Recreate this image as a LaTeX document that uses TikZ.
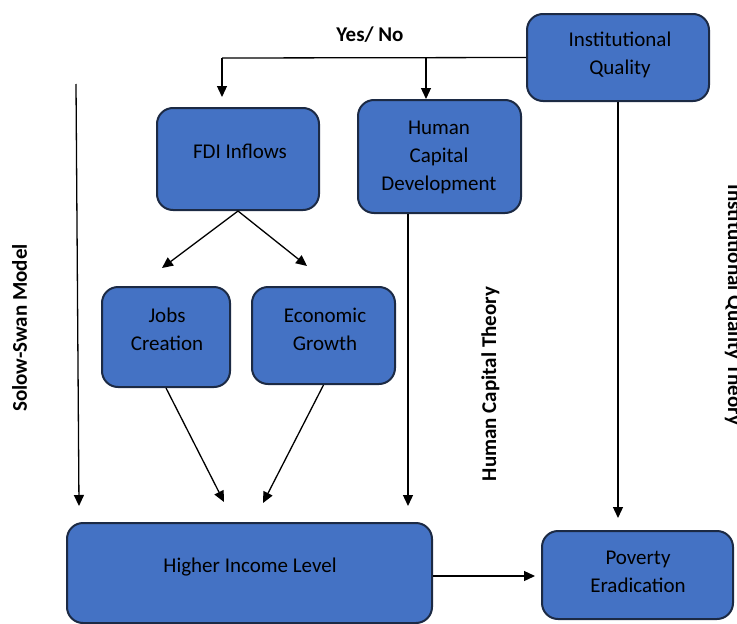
\documentclass[tikz,border=0pt]{standalone}
\usepackage{fontspec}
\setmainfont{Carlito}
\usetikzlibrary{arrows.meta}
\definecolor{boxblue}{HTML}{4472C4}
\definecolor{boxedge}{HTML}{1C2A44}
\begin{document}
\begin{tikzpicture}[x=1pt,y=-1pt,
  box/.style={draw=boxedge,line width=2pt,fill=boxblue,rounded corners=16pt,inner sep=0pt},
  boxtext/.style={align=center,font=\fontsize{21}{28}\selectfont,inner sep=0pt},
  theory/.style={font=\fontsize{21}{25}\selectfont\bfseries,inner sep=0pt},
  link/.style={line width=1.3pt,-{Triangle[length=11pt,width=10pt]}},
  plain/.style={line width=1.3pt}]
\useasboundingbox (0,0) rectangle (737,624);
\clip (0,0) rectangle (737,624);

% boxes
\node[box,minimum width=182pt,minimum height=87pt]  (iq)   at (618,57.5) {};
\node[box,minimum width=162pt,minimum height=102pt] (fdi)  at (238,159) {};
\node[box,minimum width=163pt,minimum height=113pt] (hcd)  at (439.5,156.5) {};
\node[box,minimum width=128pt,minimum height=100pt] (jobs) at (166,337) {};
\node[box,minimum width=143pt,minimum height=97pt]  (econ) at (323.5,335.5) {};
\node[box,minimum width=365pt,minimum height=100pt] (hil)  at (249.5,573) {};
\node[box,minimum width=191pt,minimum height=88pt]  (pov)  at (637.5,575) {};

% box captions
\node[boxtext] (iqT)   at (620,55)  {Institutional\\Quality};
\node[boxtext] (fdiT)  at (240,151) {FDI Inflows};
\node[boxtext] (hcdT)  at (439,157) {Human\\Capital\\Development};
\node[boxtext] (jobsT) at (167,329) {Jobs\\Creation};
\node[boxtext] (econT) at (325,329) {Economic\\Growth};
\node[boxtext] (hilT)  at (250,567) {Higher Income Level};
\node[boxtext] (povT)  at (638,572) {Poverty\\Eradication};

% theory labels
\node[theory,anchor=base] (yn) at (370,41) {Yes/ No};
\node[theory,rotate=90,anchor=base] (solow) at (27,328) {Solow-Swan Model};
\node[theory,rotate=90,anchor=base] (hct) at (496,384) {Human Capital Theory};
\node[theory,rotate=-90,anchor=base] (iqt) at (728,305) {Institutional Quality Theory};

% free ends of the connectors
\coordinate (yl) at (222,58);
\coordinate (yr) at (426,58);
\coordinate (fdiTip) at (222,97);
\coordinate (jobsTip) at (162,268);
\coordinate (econTip) at (307,266);
\coordinate (ssTop) at (76,84);
\coordinate (ssTip) at (79,506);
\coordinate (jcTip) at (224,502);
\coordinate (egTip) at (263,503);
\coordinate (hcTip) at (408,506);
\coordinate (iqTip) at (618,518);
\coordinate (povTip) at (535,576);

% connectors
\draw[plain] (iq.west) -- (yl);
\draw[link] (yl) -- (fdiTip);
\draw[link] (yr) -- (hcd.north -| yr);
\draw[link] (fdi.south) -- (jobsTip);
\draw[link] (fdi.south) -- (econTip);
\draw[link] (ssTop) -- (ssTip);
\draw[link] (jobs.south) -- (jcTip);
\draw[link] (econ.south) -- (egTip);
\draw[link] ([xshift=-31.5pt]hcd.south) -- (hcTip);
\draw[link] (iq.south) -- (iqTip);
\draw[link] (hil.east |- povTip) -- (povTip);
\end{tikzpicture}
\end{document}
